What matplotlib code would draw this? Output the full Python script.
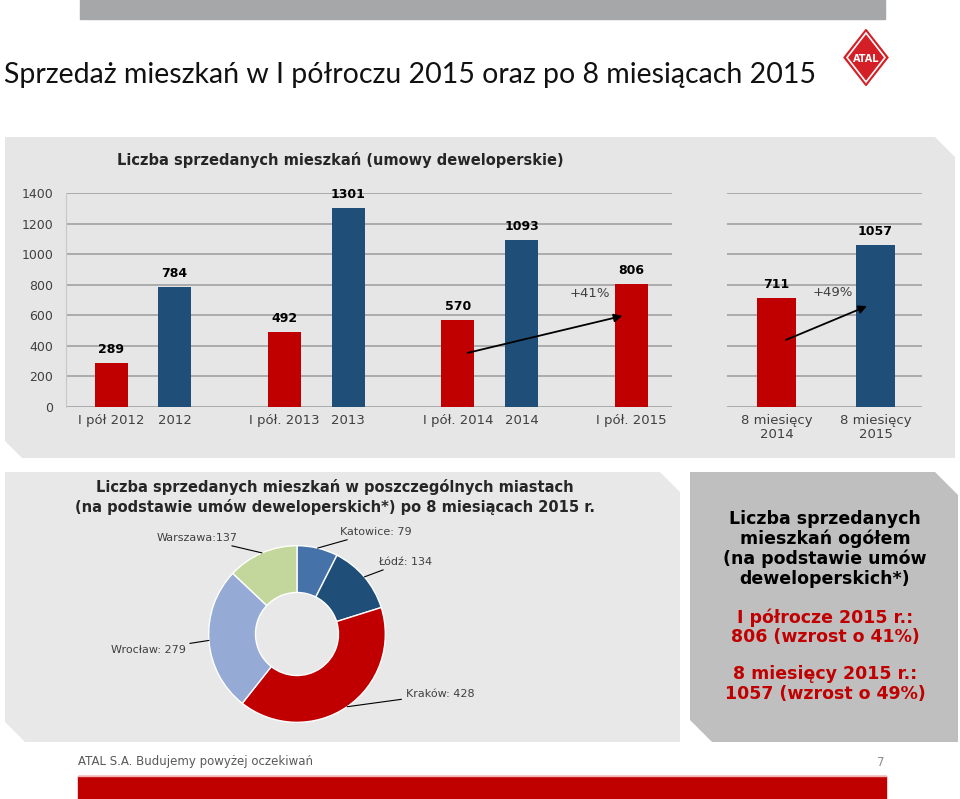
import matplotlib
matplotlib.use('Agg')
import numpy as np
import matplotlib.pyplot as plt
from matplotlib.patches import Polygon, Rectangle

W, H = 960, 799

# --- data -----------------------------------------------------------------
bar_labels = ['I pół 2012', '2012', 'I pół. 2013', '2013', 'I pół. 2014', '2014', 'I pół. 2015']
bar_values = [289, 784, 492, 1301, 570, 1093, 806]
bar_kinds = ['half', 'year', 'half', 'year', 'half', 'year', 'half']
bar_group = [0, 0, 1, 1, 2, 2, 3]
bar_slot = [0, 1, 0, 1, 0, 1, 0]

m8_labels = ['8 miesięcy\n2014', '8 miesięcy\n2015']
m8_values = [711, 1057]
m8_kinds = ['half', 'year']

growth_half = '+41%'
growth_8m = '+49%'

cities = ['Katowice', 'Łódź', 'Kraków', 'Wrocław', 'Warszawa']
city_values = [79, 134, 428, 279, 137]
city_sep = [': ', ': ', ': ', ': ', ':']

total_lines = ['Liczba sprzedanych', 'mieszkań ogółem', '(na podstawie umów', 'deweloperskich*)']
total_half = ['I półrocze 2015 r.:', '806 (wzrost o 41%)']
total_8m = ['8 miesięcy 2015 r.:', '1057 (wzrost o 49%)']

# --- colours --------------------------------------------------------------
RED = '#c00000'
BLUE = '#1f4e79'
kind_color = {'half': RED, 'year': BLUE}
city_colors = ['#4672aa', '#1f4e79', '#c00000', '#95abd5', '#c3d69b']
GRID = '#a6a6a6'
TXT = '#404040'

fig = plt.figure(figsize=(W / 100, H / 100), dpi=100)


def px_axes(x0, y0, x1, y1):
    return fig.add_axes([x0 / W, 1 - y1 / H, (x1 - x0) / W, (y1 - y0) / H])


# background layer in pixel coordinates
bg = fig.add_axes([0, 0, 1, 1])
bg.set_xlim(0, W)
bg.set_ylim(H, 0)
bg.axis('off')

bg.add_patch(Rectangle((80, 0), 805, 19, color='#a6a7a9'))
bg.text(4, 75, 'Sprzedaż mieszkań w I półroczu 2015 oraz po 8 miesiącach 2015',
        fontsize=20.5, family='Lato', color='#111111', va='center', ha='left')

# logo
lx, ly, hw, hh = 866, 57.5, 22, 28
bg.add_patch(Polygon([(lx, ly - hh), (lx + hw, ly), (lx, ly + hh), (lx - hw, ly)],
                     closed=True, color='#d51f26'))
bg.add_patch(Polygon([(lx, ly - hh + 3.5), (lx + hw - 3, ly), (lx, ly + hh - 3.5), (lx - hw + 3, ly)],
                     closed=True, fill=False, edgecolor='white', lw=1.2))
bg.text(lx, ly + 1, 'ATAL', color='white', fontsize=7, fontweight='bold', ha='center', va='center')

# panels
bg.add_patch(Polygon([(5, 137), (935, 137), (955, 157), (955, 458), (22, 458), (5, 441)],
                     closed=True, color='#e6e6e6', lw=0))
bg.add_patch(Polygon([(5, 472), (660, 472), (680, 492), (680, 742), (25, 742), (5, 722)],
                     closed=True, color='#e8e8e8', lw=0))
bg.add_patch(Polygon([(690, 472), (935, 472), (958, 495), (958, 742), (712, 742), (690, 720)],
                     closed=True, color='#bfbfbf', lw=0))

bg.text(117, 160, 'Liczba sprzedanych mieszkań (umowy deweloperskie)', fontsize=10.5,
        fontweight='bold', color='#262626', va='center', ha='left')

bg.text(335, 497, 'Liczba sprzedanych mieszkań w poszczególnych miastach\n'
        '(na podstawie umów deweloperskich*) po 8 miesiącach 2015 r.',
        fontsize=10.5, fontweight='bold', color='#262626', ha='center', va='center',
        linespacing=1.25)

bg.text(825, 549, '\n'.join(total_lines), fontsize=12.5, fontweight='bold', color='black',
        ha='center', va='center', linespacing=1.1)
bg.text(825, 627, '\n'.join(total_half), fontsize=12.5, fontweight='bold', color=RED,
        ha='center', va='center', linespacing=1.1)
bg.text(825, 684, '\n'.join(total_8m), fontsize=12.5, fontweight='bold', color=RED,
        ha='center', va='center', linespacing=1.1)

# footer
bg.text(78, 762, 'ATAL S.A. Budujemy powyżej oczekiwań', fontsize=8.5, color='#595959',
        va='center', ha='left')
bg.text(884, 762, '7', fontsize=8.5, color='#8c8c8c', va='center', ha='right')
bg.add_patch(Rectangle((78, 776), 808, 23, color=RED))
bg.plot([78, 886], [775.5, 775.5], color='#f2b3b3', lw=1)

# --- main bar chart -------------------------------------------------------
GROUP_STEP = 2.73
pos = [g * GROUP_STEP + s for g, s in zip(bar_group, bar_slot)]

ax = px_axes(66, 193, 672, 407)
ax.set_facecolor('none')
ax.bar(pos, bar_values, width=0.52, color=[kind_color[k] for k in bar_kinds], zorder=3)
for x, v in zip(pos, bar_values):
    ax.annotate(str(v), (x, v), xytext=(0, 5), textcoords='offset points', ha='center',
                va='bottom', fontsize=9, fontweight='bold', color='black', annotation_clip=False)
ax.set_ylim(0, 1400)
ax.set_xlim(-0.71, 8.83)
ax.set_yticks(range(0, 1401, 200))
ax.set_xticks(pos)
ax.set_xticklabels(bar_labels)
ax.tick_params(length=0, labelsize=9.5, labelcolor=TXT)
ax.tick_params(axis='x', pad=5)
ax.tick_params(axis='y', pad=9, labelsize=9)
ax.yaxis.grid(True, color=GRID, lw=1.3, zorder=0)
ax.set_axisbelow(True)
for s in ['top', 'right', 'bottom']:
    ax.spines[s].set_visible(False)
ax.spines['left'].set_color('#c8c8c8')

ax.annotate('', xy=(pos[6] - 0.1, 600), xytext=(pos[4] + 0.11, 350),
            arrowprops=dict(arrowstyle='-|>', color='black', lw=1.3, mutation_scale=12))
ax.text(pos[6] - 0.65, 740, growth_half, fontsize=9.5, color=TXT, ha='center', va='center')

# --- 8 months bar chart ---------------------------------------------------
ax2 = px_axes(727, 193, 922, 407)
ax2.set_facecolor('none')
p2 = list(range(len(m8_values)))
ax2.bar(p2, m8_values, width=0.39, color=[kind_color[k] for k in m8_kinds], zorder=3)
for x, v in zip(p2, m8_values):
    ax2.annotate(str(v), (x, v), xytext=(0, 5), textcoords='offset points', ha='center',
                 va='bottom', fontsize=9, fontweight='bold', color='black', annotation_clip=False)
ax2.set_ylim(0, 1400)
ax2.set_xlim(-0.5, 1.47)
ax2.set_yticks(range(0, 1401, 200))
ax2.set_yticklabels([])
ax2.set_xticks(p2)
ax2.set_xticklabels(m8_labels, linespacing=1.1)
ax2.tick_params(length=0, labelsize=9.5, labelcolor=TXT)
ax2.tick_params(axis='x', pad=5)
ax2.yaxis.grid(True, color=GRID, lw=1.3, zorder=0)
ax2.set_axisbelow(True)
for s in ax2.spines.values():
    s.set_visible(False)
ax2.annotate('', xy=(0.94, 667), xytext=(0.07, 432),
             arrowprops=dict(arrowstyle='-|>', color='black', lw=1.3, mutation_scale=12))
ax2.text(0.57, 752, growth_8m, fontsize=9.5, color=TXT, ha='center', va='center')

# --- donut ----------------------------------------------------------------
R = 92
cx, cy = 297, 634
ax3 = px_axes(cx - 2.2 * R, cy - 1.2 * R, cx + 2.2 * R, cy + 1.2 * R)
ax3.set_xlim(-2.2, 2.2)
ax3.set_ylim(-1.2, 1.2)
ax3.axis('off')
wedges, _ = ax3.pie(city_values, colors=city_colors, startangle=90, counterclock=False,
                    radius=1, wedgeprops=dict(width=0.53, edgecolor='white', lw=1))

label_xy = [(0.49, 1.16, 'left'), (0.92, 0.82, 'left'), (1.23, -0.68, 'left'),
            (-1.26, -0.18, 'right'), (-0.67, 1.09, 'right')]
for w, c, v, sep, (tx, ty, ha) in zip(wedges, cities, city_values, city_sep, label_xy):
    ang = np.deg2rad((w.theta1 + w.theta2) / 2)
    x, y = np.cos(ang), np.sin(ang)
    ax3.annotate(c + sep + str(v), xy=(x, y), xytext=(tx, ty), ha=ha, va='center',
                 fontsize=8, color=TXT,
                 arrowprops=dict(arrowstyle='-', color='black', lw=0.8, shrinkA=1, shrinkB=0))

fig.savefig('out.png', dpi=100)
